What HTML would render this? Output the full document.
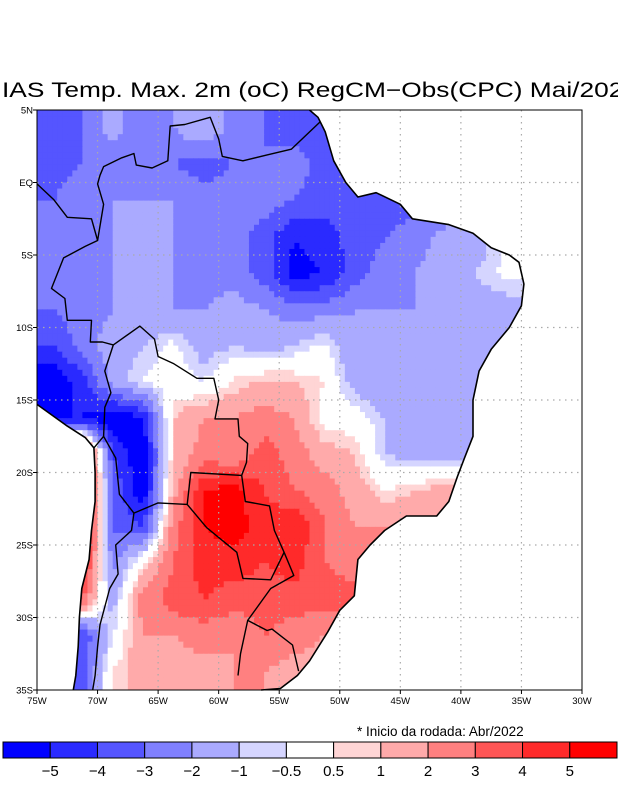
<!DOCTYPE html>
<html><head><meta charset="utf-8"><style>
html,body{margin:0;padding:0;background:#fff;width:618px;height:800px;overflow:hidden}
svg{display:block;font-family:"Liberation Sans",sans-serif}
</style></head><body>
<svg id="chart" width="618" height="800" viewBox="0 0 618 800" xmlns="http://www.w3.org/2000/svg">
<defs><clipPath id="landClip"><polygon id="landPoly" points=""/></clipPath></defs>
<text x="2" y="97" font-size="21" textLength="636" lengthAdjust="spacingAndGlyphs">IAS Temp. Max. 2m (oC) RegCM−Obs(CPC) Mai/2022</text>
<g id="cells" clip-path="url(#landClip)"></g>
<g id="grid"></g>
<g id="borders"></g>
<rect x="37" y="110" width="545" height="580" fill="none" stroke="#000" stroke-width="1"/>
<g id="axes"></g>
<text x="357" y="736" font-size="13.5">* Inicio da rodada: Abr/2022</text>
<g id="colorbar"></g>
</svg>
<script>
// anomaly grid (2.5 deg), rows from 5N southward, cols from 75W eastward; null = ocean
const lonStart = -75, latStart = 5, step = 2.5;
const row0 = [-3.5,-3,-1.5,-3,-2,-1,-2.5,-3,-3.5,-3.5,null,null,null,null,null,null,null,null];
const row1 = [-3.5,-3,-3,-3,-3,-3.5,-3,-3,-2.5,-3.5,-3,null,null,null,null,null,null,null];
const row2 = [-3,-2.5,-2,-2,-2,-2.5,-2.5,-2.5,-3,-3.5,-3.5,-3.5,null,null,null,null,null,null];
const row3 = [-3,-2.5,-2,-2,-2,-2,-2.5,-3.5,-5,-4.5,-3.5,-3,-2.5,-1.5,-1.5,-0.5,null,null];
const row4 = [-3,-2.5,-2,-2,-2,-2.5,-2.5,-3.5,-5.5,-5,-3.5,-2.5,-2,-1.5,-1,-0.3,null,null];
const row5 = [-3,-2.5,-2,-2,-2,-2,-1.5,-2,-2.5,-2.5,-2,-2,-2,-1.5,-1.5,-1.5,null,null];
const row6 = [-4,-2.5,-1.5,-1,-0.3,-1.5,-1,-1.5,-1,-0.3,-2,-2,-2,-1.5,-1.5,null,null,null];
const row7 = [-6,-4.5,-1.5,-0.5,0,-0.5,0.6,1.2,1,0.5,-1.5,-2,-1.5,-1.5,-1,null,null,null];
const row8 = [null,-5,-6,-5,1,2,2,2.5,2,0,0,-1,-1.5,-1.5,-1.5,null,null,null];
const row9 = [null,6,-4,-6,1,2.5,2,3.5,2.5,1.5,1,-1,-1.5,-1.5,null,null,null,null];
const row10 = [null,6,-3,-6,1.5,5,5.5,4,3,2.5,1.5,0.5,1,1.5,null,null,null,null];
const row11 = [null,6,-3,-4,2.5,5,5.5,4.5,5,3,2,2,null,null,null,null,null,null];
const row12 = [null,5,-2.5,0.5,3,4.5,4.5,4,4.5,3,2.5,null,null,null,null,null,null,null];
const row13 = [null,3,-1.5,2.5,3.5,4,3.5,3.5,3.5,3.5,null,null,null,null,null,null,null,null];
const row14 = [null,-4,-0.5,2,2,2.5,2,3,2.5,2,null,null,null,null,null,null,null,null];
const row15 = [null,-3.5,0.5,1.5,1.5,1.5,2,2,1.5,null,null,null,null,null,null,null,null,null];
const field = [row0,row1,row2,row3,row4,row5,row6,row7,row8,row9,row10,row11,row12,row13,row14,row15];
const levels = [-5,-4,-3,-2,-1,-0.5,0.5,1,2,3,4,5];
const levelLabels = ["−5","−4","−3","−2","−1","−0.5","0.5","1","2","3","4","5"];
const palette = ["#0000ff","#2a2aff","#5555ff","#8080ff","#aaaaff","#d5d5ff","#ffffff","#ffd5d5","#ffaaaa","#ff8080","#ff5555","#ff2a2a","#ff0000"];
const latTicks = [5,0,-5,-10,-15,-20,-25,-30,-35];
const latLabels = ["5N","EQ","5S","10S","15S","20S","25S","30S","35S"];
const lonTicks = [-75,-70,-65,-60,-55,-50,-45,-40,-35,-30];
const lonLabels = ["75W","70W","65W","60W","55W","50W","45W","40W","35W","30W"];
const coast = [[-75,-15.3],[-72.5,-16.8],[-71,-17.6],[-70.3,-18.3],[-70.2,-20],[-70.2,-22],[-70.5,-24],[-70.7,-26],[-71.3,-28],[-71.5,-30],[-71.6,-32],[-71.8,-34],[-72,-35]];
const coastE = [[-56.5,-35],[-54.9,-34.9],[-53.5,-34],[-52.5,-33],[-51,-31],[-50,-29.5],[-48.8,-28.5],[-48.5,-26],[-47.5,-25],[-46.3,-24],[-44.5,-23],[-42,-23],[-41,-22],[-40.3,-20.3],[-39.7,-19],[-39,-17.5],[-39,-15],[-38.5,-13],[-37.5,-11.5],[-36,-10],[-35,-8.5],[-34.8,-7],[-35.2,-5.5],[-36,-5],[-37.5,-4.5],[-39,-3.5],[-41,-2.9],[-44,-2.5],[-45,-1.5],[-47,-0.7],[-48.5,-1],[-49.5,0],[-50.5,1.5],[-51.2,3.5],[-51.8,4.5],[-52.5,5]];
const brazilBorder = [[-51.6,4.2],[-54,2.3],[-56,1.9],[-58,1.5],[-59.7,1.8],[-60,3],[-60.7,4.5],[-62.8,4],[-64,3.9],[-64.2,1.5],[-65.5,1],[-66.8,1.2],[-67,2],[-68,1.7],[-69.5,1.1],[-69.8,0.5],[-70,-0.1],[-69.5,-1.5],[-70,-4],[-71,-4.4],[-72.8,-5.2],[-73.8,-7.3],[-72.7,-8],[-72.5,-9.5],[-70.5,-9.5],[-70.6,-11],[-69.6,-11],[-68.7,-11.2],[-66.5,-9.9],[-65.3,-10.8],[-65,-12],[-63.7,-12.5],[-61.8,-13.5],[-60.4,-13.5],[-60,-15],[-60.3,-16.3],[-58.4,-16.3],[-58.3,-17.5],[-57.6,-18],[-57.7,-19.3],[-58.1,-20.2],[-57.8,-22],[-55.8,-22.3],[-55.4,-24],[-54.6,-25.5],[-53.8,-27.1],[-55.7,-28],[-57.6,-30.2],[-56,-30.9],[-55.6,-30.8],[-53.9,-31.9],[-53.4,-33.7]];
const paraguay = [[-58.1,-20.2],[-62.3,-20],[-62.6,-22.2],[-61,-23.8],[-58.5,-25.5],[-58,-27.3],[-55.7,-27.4],[-54.6,-25.5]];
const andes = [[-68.7,-11.2],[-69.4,-13],[-68.9,-14.5],[-69.4,-15.5],[-69.5,-17.5],[-68.5,-19],[-68.2,-21.5],[-67,-22.8],[-67.2,-24],[-68.5,-25],[-68.3,-27],[-69,-28],[-69.8,-30.5],[-70,-32],[-70.2,-34],[-70.4,-35]];
const bolArg = [[-67,-22.8],[-65,-22.1],[-62.6,-22.2]];
const colPeru = [[-70,-4],[-70.5,-2.5],[-72.5,-2.4],[-73.6,-1.2],[-75,-0.1]];
const chilePeru = [[-69.5,-17.5],[-70.3,-18.3]];
const uruArg = [[-57.6,-30.2],[-58.2,-32.5],[-58.4,-34]];

const X = lon => 37 + (lon - lonStart) * 545 / 45;
const Y = lat => 110 + (latStart - lat) * 580 / 40;
const NS = "http://www.w3.org/2000/svg";
function colorFor(v){let i=0;while(i<levels.length&&v>=levels[i])i++;return palette[i];}

const landPts = [[-75,5]].concat([[-75,-15.3]], coast, coastE);
document.getElementById('landPoly').setAttribute('points', landPts.map(q=>X(q[0]).toFixed(1)+','+Y(q[1]).toFixed(1)).join(' '));

const filled = field.map(row=>row.map((v,c)=>{
  if(v!==null) return v;
  for(let d=1;d<row.length;d++){
    if(c-d>=0&&row[c-d]!==null) return row[c-d];
    if(c+d<row.length&&row[c+d]!==null) return row[c+d];
  }
  return 0;
}));
function val(r,c){r=Math.max(0,Math.min(filled.length-1,r));c=Math.max(0,Math.min(filled[0].length-1,c));return filled[r][c];}

const cells = document.getElementById('cells');
const sub = 6;
for (let r=0;r<field.length;r++){for(let c=0;c<field[0].length;c++){
  for(let a=0;a<sub;a++){for(let b=0;b<sub;b++){
    const fr=r+(a+0.5)/sub-0.5, fc=c+(b+0.5)/sub-0.5;
    const r0=Math.floor(fr), c0=Math.floor(fc), tr=fr-r0, tc=fc-c0;
    const v = val(r0,c0)*(1-tr)*(1-tc)+val(r0,c0+1)*(1-tr)*tc+val(r0+1,c0)*tr*(1-tc)+val(r0+1,c0+1)*tr*tc;
    const lon0 = lonStart + c*step + b*step/sub, lat0 = latStart - r*step - a*step/sub;
    const rc = document.createElementNS(NS,'rect');
    
    
    rc.setAttribute('x', X(lon0)); rc.setAttribute('y', Y(lat0));
    rc.setAttribute('width', X(lon0+step/sub)-X(lon0)+0.6); rc.setAttribute('height', Y(lat0-step/sub)-Y(lat0)+0.6);
    rc.setAttribute('fill', colorFor(v));
    cells.appendChild(rc);
  }}
}}

const grid = document.getElementById('grid');
function line(g,x1,y1,x2,y2,attrs,name){const l=document.createElementNS(NS,'line');
  
  
  l.setAttribute('x1',x1);l.setAttribute('y1',y1);l.setAttribute('x2',x2);l.setAttribute('y2',y2);
  for(const k in attrs)l.setAttribute(k,attrs[k]);g.appendChild(l);}
const dot={stroke:'#aaa','stroke-width':1.2,'stroke-dasharray':'1.5 4.5'};
lonTicks.slice(1,-1).forEach(lo=>line(grid,X(lo),110,X(lo),690,dot,'lon-grid-line'));
latTicks.slice(1,-1).forEach(la=>line(grid,37,Y(la),582,Y(la),dot,'lat-grid-line'));

const borders = document.getElementById('borders');
function poly(pts,name,w){const p=document.createElementNS(NS,'polyline');
  
  
  p.setAttribute('points',pts.map(q=>X(q[0]).toFixed(1)+','+Y(q[1]).toFixed(1)).join(' '));
  p.setAttribute('fill','none');p.setAttribute('stroke','#000');p.setAttribute('stroke-width',w);p.setAttribute('stroke-linejoin','round');
  borders.appendChild(p);}
poly(coast,'pacific-coastline',1.6);
poly(coastE,'atlantic-coastline',1.6);
poly(brazilBorder,'brazil-border',1.4);
poly(paraguay,'paraguay-border',1.4);
poly(andes,'andes-border',1.4);
poly(bolArg,'bolivia-argentina-border',1.4);
poly(colPeru,'colombia-peru-border',1.4);
poly(chilePeru,'chile-peru-border',1.4);
poly(uruArg,'uruguay-argentina-border',1.4);

const axes = document.getElementById('axes');
function txt(g,x,y,s,size,anchor,name){const t=document.createElementNS(NS,'text');
  
  
  t.setAttribute('x',x);t.setAttribute('y',y);t.setAttribute('font-size',size);t.setAttribute('text-anchor',anchor);t.textContent=s;g.appendChild(t);}
latTicks.forEach((la,i)=>{txt(axes,33,Y(la)+3.5,latLabels[i],9.5,'end','lat-tick-label');line(axes,33,Y(la),37,Y(la),{stroke:'#000'},'lat-tick');});
lonTicks.forEach((lo,i)=>{txt(axes,X(lo),704,lonLabels[i],9.5,'middle','lon-tick-label');line(axes,X(lo),690,X(lo),694,{stroke:'#000'},'lon-tick');});

const cb = document.getElementById('colorbar');
const cbX=3, cbW=(617-3)/palette.length;
palette.forEach((col,i)=>{const r=document.createElementNS(NS,'rect');
  
  
  r.setAttribute('x',cbX+i*cbW);r.setAttribute('y',742);r.setAttribute('width',cbW);r.setAttribute('height',16);
  r.setAttribute('fill',col);r.setAttribute('stroke','#000');r.setAttribute('stroke-width',1);cb.appendChild(r);});
levelLabels.forEach((s,i)=>txt(cb,cbX+(i+1)*cbW,776,s,15,'middle','colorbar-label'));
</script>
</body></html>
